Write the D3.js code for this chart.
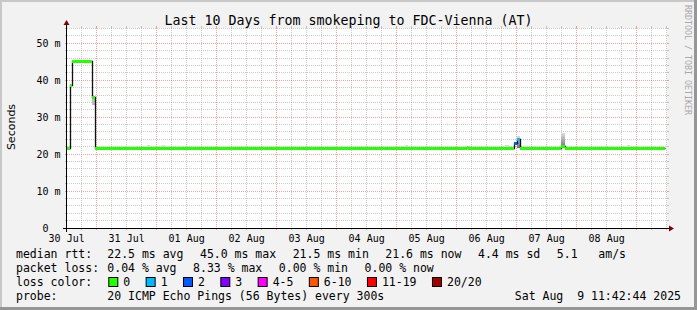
<!DOCTYPE html>
<html><head><meta charset="utf-8">
<script src="https://cdn.jsdelivr.net/npm/d3@7"></script>
<style>
html,body{margin:0;padding:0;background:#f2f2f2;}
svg{display:block;}
text{font-family:"DejaVu Sans Mono",monospace;fill:#000;}
</style></head><body>
<svg id="c" width="697" height="310"></svg>
<script>
// ---------------- data ----------------
const title = "Last 10 Days from smokeping to FDC-Vienna (AT)";
const yAxisTitle = "Seconds";
const watermark = "RRDTOOL / TOBI OETIKER";
const startTime = Date.UTC(2025, 6, 30, 12, 8, 0);   // left edge of plot
const spanHours = 240;                                // 10 days
const xTickDays = ["2025-07-30","2025-07-31","2025-08-01","2025-08-02","2025-08-03",
                   "2025-08-04","2025-08-05","2025-08-06","2025-08-07","2025-08-08"];
const xTickLabels = ["30 Jul","31 Jul","01 Aug","02 Aug","03 Aug","04 Aug","05 Aug","06 Aug","07 Aug","08 Aug"];
const yTicks = [0, 10, 20, 30, 40, 50];
const yTickLabels = ["0  ", "10 m", "20 m", "30 m", "40 m", "50 m"];
const yMinorStep = 2;
const yMax = 54.14;

// median rtt (ms) step series: segment starts (hours from start), value, lost pings
const medianStartH = [0, 1.2, 2.0, 10.0, 11.2, 160.0, 160.4, 178.8, 179.8, 181.2, 197.6, 199.2];
const medianMs     = [21.6, 38.6, 45.0, 35.3, 21.6, 21.85, 21.6, 23.0, 24.0, 21.6, 22.1, 21.6];
const medianLoss   = [0, 0, 0, 0, 0, 0, 0, 2, 1, 0, 0, 0];
const dataEndH = 239.2;

// smoke (spread of pings)
const smokeStartH = [10.0, 23.9, 27.2, 31.9, 37.9, 39.9, 43.9, 104.4, 109.9, 135.2, 175.2, 185.9, 179.8, 197.6, 205.9, 219.2, 223.9, 228.0];
const smokeEndH   = [11.2, 25.2, 28.0, 33.2, 39.2, 41.2, 45.2, 106.4, 111.2, 136.4, 176.8, 187.2, 181.2, 199.2, 207.2, 220.4, 225.2, 229.2];
const smokeLowMs  = [33.3, 21.6, 21.6, 21.6, 21.6, 21.6, 21.6, 21.6, 21.6, 21.6, 21.6, 21.6, 21.6, 21.6, 21.6, 21.6, 21.6, 21.6];
const smokeHighMs = [35.3, 22.3, 22.1, 22.5, 22.5, 22.2, 22.1, 22.3, 22.2, 22.5, 22.6, 22.2, 25.0, 25.6, 22.2, 22.1, 22.5, 22.1];

const lossClasses = ["0", "1", "2", "3", "4-5", "6-10", "11-19", "20/20"];
const lossClassMin = [0, 1, 2, 3, 4, 6, 11, 20];
const lossColors = ["#26ff00", "#00b8ff", "#0059ff", "#7e00ff", "#ff00ff", "#ff5500", "#ff0000", "#a10000"];

const legendRows = [
  {label: "median rtt:",  items: ["22.5 ms avg", "45.0 ms max", "21.5 ms min", "21.6 ms now", "4.4 ms sd", "5.1   am/s"]},
  {label: "packet loss:", items: ["0.04 % avg", "8.33 % max", "0.00 % min", "0.00 % now"]}
];
const probeText = "20 ICMP Echo Pings (56 Bytes) every 300s";
const dateText = "Sat Aug  9 11:42:44 2025";

// ---------------- drawing ----------------
const W = 697, H = 310;
const X0 = 67, X1 = 667, Y0 = 228, Y1 = 28;
const svg = d3.select("#c");
const hr = h => new Date(startTime + h * 3600e3);

const x = d3.scaleUtc().domain([hr(0), hr(spanHours)]).range([X0, X1]);
const y = d3.scaleLinear().domain([0, yMax]).range([Y0, Y1]);
const px = v => Math.floor(v) + 0.5;

// frame
svg.append("rect").attr("width", W).attr("height", H).attr("fill", "#f2f2f2");
svg.append("rect").attr("x", 0).attr("y", 0).attr("width", W).attr("height", 2).attr("fill", "#c8c8c8");
svg.append("rect").attr("x", 0).attr("y", 0).attr("width", 2).attr("height", H).attr("fill", "#c8c8c8");
svg.append("rect").attr("x", 0).attr("y", H - 3).attr("width", W).attr("height", 3).attr("fill", "#969696");
svg.append("rect").attr("x", W - 3).attr("y", 0).attr("width", 3).attr("height", H).attr("fill", "#969696");

// canvas
svg.append("rect").attr("x", X0).attr("y", Y1).attr("width", X1 - X0).attr("height", Y0 - Y1).attr("fill", "#fff");

const defs = svg.append("defs");
const grad = defs.append("linearGradient").attr("id", "smokeGrad").attr("x1", 0).attr("y1", 1).attr("x2", 0).attr("y2", 0);
grad.append("stop").attr("offset", "0%").attr("stop-color", "#707070");
grad.append("stop").attr("offset", "100%").attr("stop-color", "#dedede");

// grid
const gridG = svg.append("g");
const minorCol = "rgba(128,128,128,0.42)", majorCol = "rgba(255,0,0,0.38)";
const yMinor = d3.range(yMinorStep, yMax + 0.001, yMinorStep).filter(v => !yTicks.includes(v));
function hGrid(v, col) {
  const yy = px(y(v));
  gridG.append("line").attr("x1", X0 - 2).attr("x2", X0).attr("y1", yy).attr("y2", yy).attr("stroke", col);
  gridG.append("line").attr("x1", X0).attr("x2", X1).attr("y1", yy).attr("y2", yy).attr("stroke", col).attr("stroke-dasharray", "1,1");
  gridG.append("line").attr("x1", X1).attr("x2", X1 + 2).attr("y1", yy).attr("y2", yy).attr("stroke", col);
}
function vGrid(t, col) {
  const xx = px(x(t));
  gridG.append("line").attr("x1", xx).attr("x2", xx).attr("y1", Y0).attr("y2", Y0 + 2).attr("stroke", col);
  gridG.append("line").attr("x1", xx).attr("x2", xx).attr("y1", Y1).attr("y2", Y0).attr("stroke", col).attr("stroke-dasharray", "1,1");
  gridG.append("line").attr("x1", xx).attr("x2", xx).attr("y1", Y1 - 2).attr("y2", Y1).attr("stroke", col);
}
yMinor.forEach(v => hGrid(v, minorCol));
yTicks.filter(v => v > 0).forEach(v => hGrid(v, majorCol));
const days = d3.utcDay.range(hr(0), hr(spanHours));
const sixH = d3.utcHour.every(6).range(hr(0), hr(spanHours)).filter(t => t.getUTCHours() !== 0);
sixH.forEach(t => vGrid(t, minorCol));
days.forEach(t => vGrid(t, majorCol));

// smoke
const smokeG = svg.append("g");
smokeStartH.forEach((s, i) => {
  const hi = smokeHighMs[i], lo = smokeLowMs[i];
  smokeG.append("rect")
    .attr("x", Math.round(x(hr(s)))).attr("width", Math.round(x(hr(smokeEndH[i]))) - Math.round(x(hr(s))))
    .attr("y", Math.round(y(hi))).attr("height", Math.round(y(lo)) - Math.round(y(hi)))
    .attr("fill", (hi - lo) > 2.5 ? "url(#smokeGrad)" : (hi - lo) > 1.5 ? "#bdbdbd" : "#dadada");
});

// median dark step line
const pts = medianStartH.map((h, i) => [hr(h), medianMs[i]]);
pts.push([hr(dataEndH), medianMs[medianMs.length - 1]]);
const stepLine = d3.line().x(d => Math.round(x(d[0])) + 0.5).y(d => px(y(d[1]))).curve(d3.curveStepAfter);
svg.append("path").attr("d", stepLine(pts)).attr("fill", "none").attr("stroke", "#111").attr("stroke-width", 1.3);

// coloured median segments
function lossColor(n) {
  let idx = 0;
  lossClassMin.forEach((m, i) => { if (n >= m) idx = i; });
  return lossColors[idx];
}
medianStartH.forEach((h, i) => {
  const e = i + 1 < medianStartH.length ? medianStartH[i + 1] : dataEndH;
  const yy = px(y(medianMs[i]));
  svg.append("line")
    .attr("x1", Math.round(x(hr(h)))).attr("x2", Math.round(x(hr(e))))
    .attr("y1", yy).attr("y2", yy)
    .attr("stroke", lossColor(medianLoss[i])).attr("stroke-width", 3);
});

// axes
svg.append("line").attr("x1", X0 - 4).attr("x2", X1 + 2).attr("y1", Y0 + 0.5).attr("y2", Y0 + 0.5).attr("stroke", "#000");
svg.append("line").attr("x1", X0 - 0.5).attr("x2", X0 - 0.5).attr("y1", Y0 + 4).attr("y2", Y1 - 3).attr("stroke", "#000");
svg.append("path").attr("d", `M${X1 + 2},${Y0 - 2.5}L${X1 + 7},${Y0 + 0.5}L${X1 + 2},${Y0 + 3.5}Z`).attr("fill", "#800000");
svg.append("path").attr("d", `M${X0 - 3.5},${Y1 - 3}L${X0 - 0.5},${Y1 - 8}L${X0 + 2.5},${Y1 - 3}Z`).attr("fill", "#800000");

// y tick labels
yTicks.forEach((v, i) => {
  svg.append("text").attr("x", 60.5).attr("y", y(v) + 3.8)
    .attr("text-anchor", "end").style("white-space", "pre").attr("font-size", 10)
    .text(yTickLabels[i]);
});
// x tick labels (centred at noon)
xTickDays.forEach((d, i) => {
  const t = d3.utcHour.offset(new Date(d + "T00:00:00Z"), 12);
  svg.append("text").attr("x", x(t)).attr("y", 241.5).attr("text-anchor", "middle").attr("font-size", 10)
    .text(xTickLabels[i]);
});

// title
svg.append("text").attr("x", W / 2).attr("y", 25).attr("text-anchor", "middle").attr("font-size", 13.3).text(title);
// y axis title
svg.append("text").attr("transform", "translate(15,127) rotate(-90)").attr("text-anchor", "middle")
  .style("font-family", "'DejaVu Sans',sans-serif").attr("font-size", 11).text(yAxisTitle);
// watermark
svg.append("text").attr("transform", "translate(685,5) rotate(90)").attr("font-size", 8.3)
  .style("fill", "#a8a8a8").text(watermark);

// legend
const LF = 11.5, gap = 16.5, colX = 107.3;
const rowsY = [258, 272, 286, 300];
legendRows.forEach((r, ri) => {
  svg.append("text").attr("x", 16).attr("y", rowsY[ri]).attr("font-size", LF).style("white-space", "pre").text(r.label);
  let cx = colX;
  r.items.forEach(it => {
    const t = svg.append("text").attr("x", cx).attr("y", rowsY[ri]).attr("font-size", LF).style("white-space", "pre").text(it);
    cx += t.node().getComputedTextLength() + gap;
  });
});
svg.append("text").attr("x", 16).attr("y", rowsY[2]).attr("font-size", LF).text("loss color:");
{
  let cx = colX + 1;
  lossClasses.forEach((c, i) => {
    svg.append("rect").attr("x", cx + 0.5).attr("y", 277.5).attr("width", 9).attr("height", 9)
      .attr("fill", lossColors[i]).attr("stroke", "#000");
    const t = svg.append("text").attr("x", cx + 15).attr("y", rowsY[2]).attr("font-size", LF).text(c);
    cx += 15 + t.node().getComputedTextLength() + 15.4;
  });
}
svg.append("text").attr("x", 16).attr("y", rowsY[3]).attr("font-size", LF).text("probe:");
svg.append("text").attr("x", colX).attr("y", rowsY[3]).attr("font-size", LF).text(probeText);
svg.append("text").attr("x", 681).attr("y", rowsY[3]).attr("text-anchor", "end").attr("font-size", LF).style("white-space", "pre").text(dateText);
</script>
</body></html>
